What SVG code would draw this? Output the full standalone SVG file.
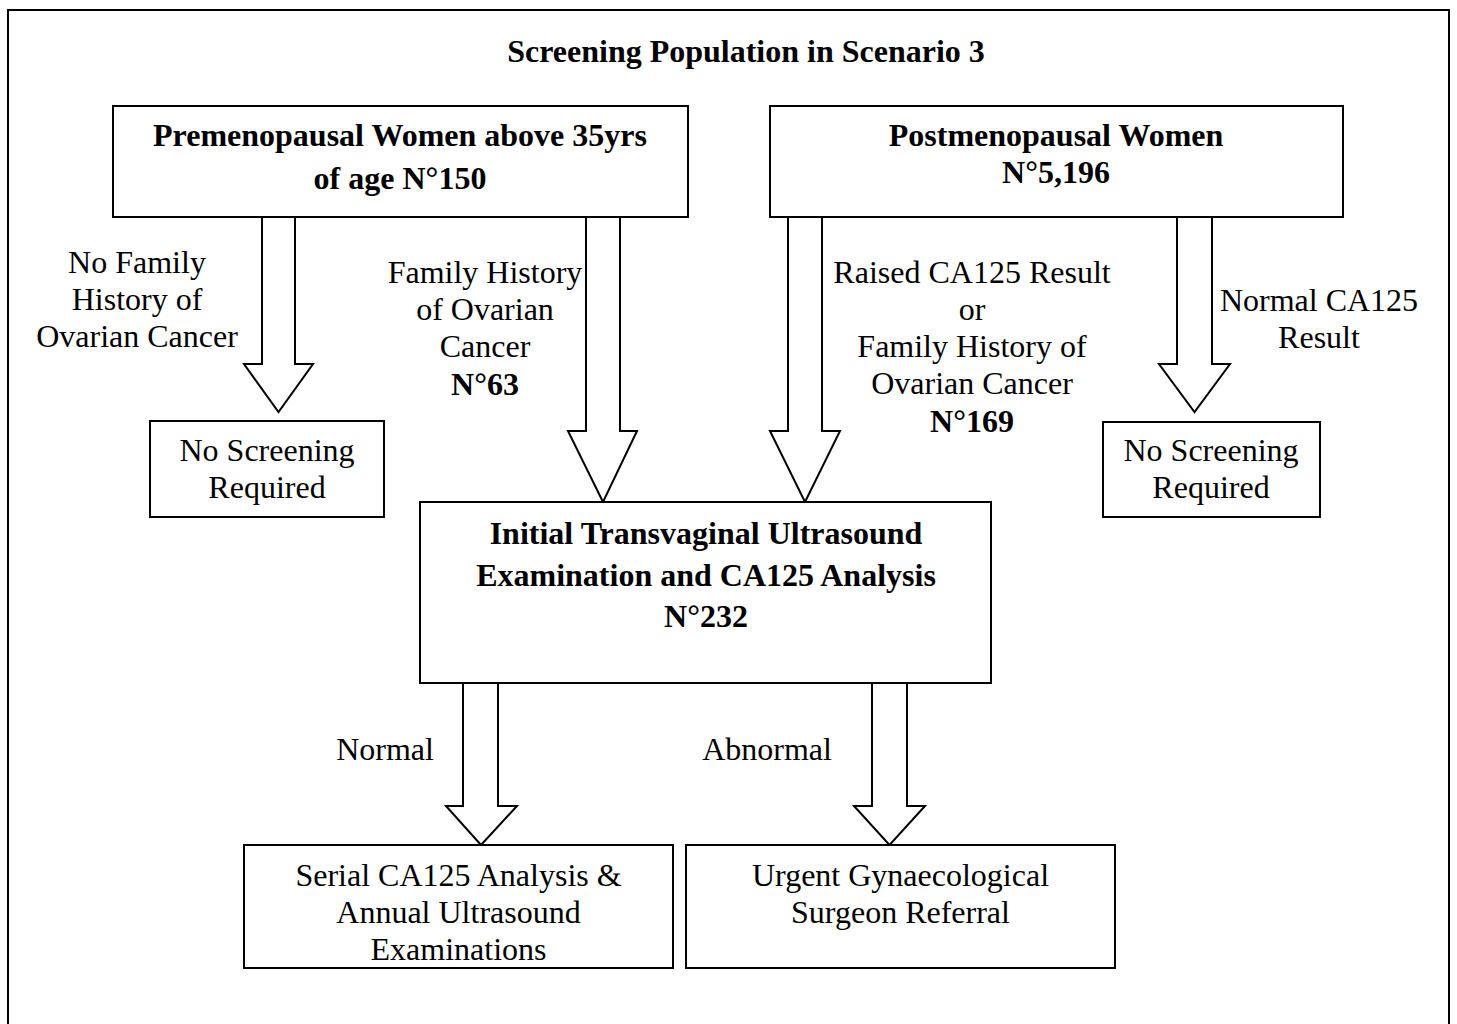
<svg xmlns="http://www.w3.org/2000/svg" width="1457" height="1024" viewBox="0 0 1457 1024">
<style>
.box{fill:#fff;stroke:#000;stroke-width:2}
.arr{fill:#fff;stroke:#000;stroke-width:2;stroke-linejoin:miter}
text{font-family:"Liberation Serif","Times New Roman",serif;font-size:32px;fill:#000;text-anchor:middle}
.b{font-weight:bold}
</style>
<rect x="0" y="0" width="1457" height="1024" fill="#fff"/>
<rect id="frame" x="8" y="10" width="1441" height="1030" fill="none" stroke="#000" stroke-width="2"/>
<text id="title" class="b" x="746" y="62">Screening Population in Scenario 3</text>
<g id="connectors">
<polygon class="arr" points="262,217 295,217 295,364 313,364 278.5,412 244,364 262,364"/>
<polygon class="arr" points="586,217 620,217 620,431 637,431 603,502 568,431 586,431"/>
<polygon class="arr" points="788,217 822,217 822,431 840,431 805,502 770,431 788,431"/>
<polygon class="arr" points="1177,217 1212,217 1212,364 1230,364 1194.5,412 1159,364 1177,364"/>
<polygon class="arr" points="463,683 498,683 498,806 517,806 481,845 446,806 463,806"/>
<polygon class="arr" points="872,683 907,683 907,806 925,806 889.5,845 854,806 872,806"/>
<text x="137" y="273">No Family</text>
<text x="137" y="310">History of</text>
<text x="137" y="347">Ovarian Cancer</text>
<text x="485" y="283">Family History</text>
<text x="485" y="320">of Ovarian</text>
<text x="485" y="357">Cancer</text>
<text class="b" x="485" y="395">N°63</text>
<text x="972" y="283">Raised CA125 Result</text>
<text x="972" y="320">or</text>
<text x="972" y="357">Family History of</text>
<text x="972" y="394">Ovarian Cancer</text>
<text class="b" x="972" y="432">N°169</text>
<text x="1319" y="311">Normal CA125</text>
<text x="1319" y="348">Result</text>
<text x="385" y="760">Normal</text>
<text x="767" y="760">Abnormal</text>
</g>
<g id="premenopausal">
<rect class="box" x="113" y="106" width="575" height="111"/>
<text class="b" x="400" y="146">Premenopausal Women above 35yrs</text>
<text class="b" x="400" y="189">of age N°150</text>
</g>
<g id="postmenopausal">
<rect class="box" x="770" y="106" width="573" height="111"/>
<text class="b" x="1056" y="146">Postmenopausal Women</text>
<text class="b" x="1056" y="183">N°5,196</text>
</g>
<g id="noscreen-left">
<rect class="box" x="150" y="421" width="234" height="96"/>
<text x="267" y="461">No Screening</text>
<text x="267" y="498">Required</text>
</g>
<g id="noscreen-right">
<rect class="box" x="1103" y="422" width="217" height="95"/>
<text x="1211" y="461">No Screening</text>
<text x="1211" y="498">Required</text>
</g>
<g id="initial">
<rect class="box" x="420" y="502" width="571" height="181"/>
<text class="b" x="706" y="544">Initial Transvaginal Ultrasound</text>
<text class="b" x="706" y="586">Examination and CA125 Analysis</text>
<text class="b" x="706" y="627">N°232</text>
</g>
<g id="serial">
<rect class="box" x="244" y="845" width="429" height="123"/>
<text x="458.5" y="886">Serial CA125 Analysis &amp;</text>
<text x="458.5" y="923">Annual Ultrasound</text>
<text x="458.5" y="960">Examinations</text>
</g>
<g id="urgent">
<rect class="box" x="686" y="845" width="429" height="123"/>
<text x="900.5" y="886">Urgent Gynaecological</text>
<text x="900.5" y="923">Surgeon Referral</text>
</g>
</svg>
